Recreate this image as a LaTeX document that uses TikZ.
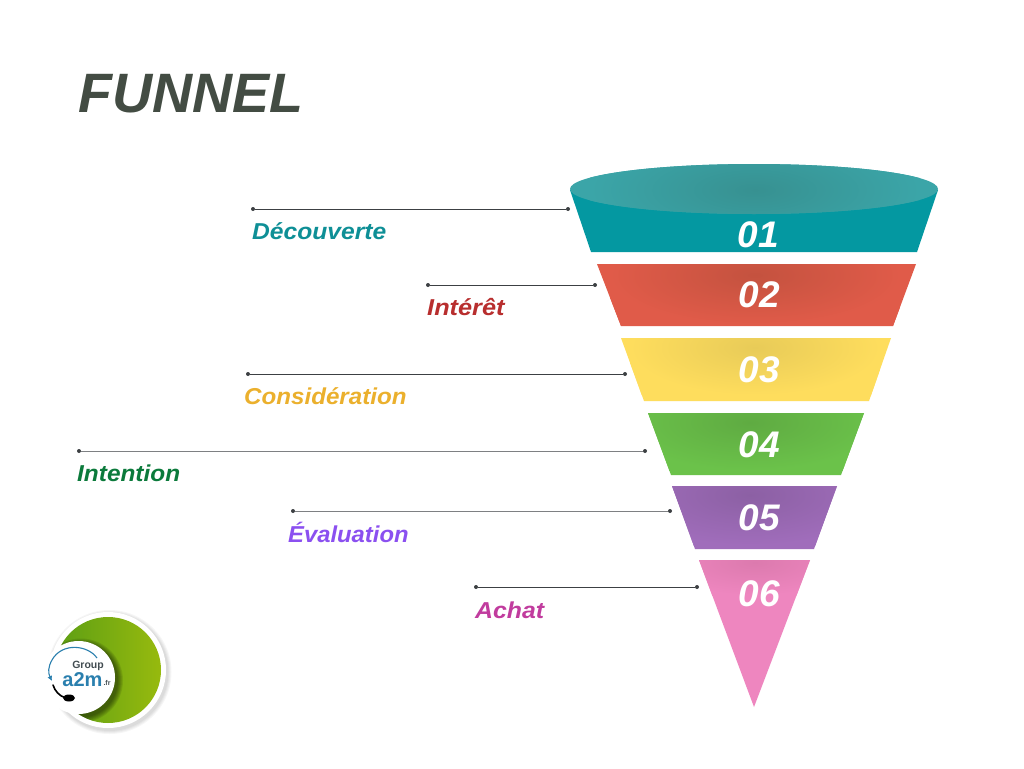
\documentclass[tikz,border=0pt]{standalone}
\usepackage{fontspec}
\setmainfont{Liberation Sans}
\usetikzlibrary{arrows.meta}
\definecolor{cTeal}{HTML}{0498A1}
\definecolor{cTealTop}{HTML}{3BA5A8}
\definecolor{cTealDark}{HTML}{379191}
\definecolor{cRed}{HTML}{E05B49}
\definecolor{cRedDark}{HTML}{C4523F}
\definecolor{cYellow}{HTML}{FEDD5D}
\definecolor{cYellowDark}{HTML}{E8CB58}
\definecolor{cGreen}{HTML}{6BC24A}
\definecolor{cGreenDark}{HTML}{5FAB42}
\definecolor{cPurple}{HTML}{A06DBB}
\definecolor{cPurpleDark}{HTML}{8C60A4}
\definecolor{cPink}{HTML}{EE86BF}
\definecolor{cPinkDark}{HTML}{DC7AAE}
\definecolor{cLine}{HTML}{3C4043}
\definecolor{cLineSoft}{HTML}{7E8083}
\definecolor{cTitle}{HTML}{434C43}
\definecolor{cLogoG}{HTML}{97BA0E}
\definecolor{cLogoD}{HTML}{5C9E14}
\definecolor{cLogoB}{HTML}{2A7FAE}
\definecolor{cLogoT}{HTML}{434D52}
\definecolor{tTeal}{HTML}{0E8F96}
\definecolor{tRed}{HTML}{B82E2E}
\definecolor{tGold}{HTML}{EBB02D}
\definecolor{tGreen}{HTML}{0B7A3B}
\definecolor{tViolet}{HTML}{8B50F0}
\definecolor{tMagenta}{HTML}{C13C9E}
\tikzset{
  x=1pt,y=-1pt,
  leader/.style={line width=0.9pt},
  dotnode/.style={circle,fill=cLine,inner sep=0pt,minimum size=4pt},
  numlabel/.style={font=\fontsize{37}{37}\selectfont\bfseries\itshape,text=white,inner sep=0pt},
  stage/.style={font=\fontsize{23}{23}\selectfont\bfseries\itshape,inner sep=0pt,anchor=base west,transform shape},
}
\begin{document}
\begin{tikzpicture}
\useasboundingbox (0,0) rectangle (1024,768);
\fill[white] (0,0) rectangle (1024,768);
\node[font=\fontsize{55.5}{56}\selectfont\bfseries\itshape,text=cTitle,inner sep=0pt,anchor=base west] (title) at (78,112.5) {FUNNEL};

% funnel bands
\fill[cTeal] (570,190) -- (591,252) -- (917,252) -- (938,190) -- cycle;
\fill[cRed] (597,264) -- (621,326) -- (893,326) -- (916,264) -- cycle;
\fill[cYellow] (621,338) -- (644,401) -- (869,401) -- (891,338) -- cycle;
\fill[cGreen] (648,413) -- (671,475) -- (841,475) -- (864,413) -- cycle;
\fill[cPurple] (672,486) -- (695,549) -- (814,549) -- (837,486) -- cycle;
\fill[cPink] (699,560) -- (754,707) -- (810,560) -- cycle;

% top ellipse
\fill[cTealTop] (754,189) ellipse [x radius=184,y radius=25];
\begin{scope}
\clip (754,189) ellipse [x radius=184,y radius=25];
\shade[inner color=cTealDark,outer color=cTealTop] (590,135) rectangle (920,245);
\end{scope}
% soft shade on each band
\begin{scope}
\clip (597,264) -- (621,326) -- (893,326) -- (916,264) -- cycle;
\shade[inner color=cRedDark,outer color=cRed] (610,225) rectangle (900,325);
\end{scope}
\begin{scope}
\clip (621,338) -- (644,401) -- (869,401) -- (891,338) -- cycle;
\shade[inner color=cYellowDark,outer color=cYellow] (630,300) rectangle (880,395);
\end{scope}
\begin{scope}
\clip (648,413) -- (671,475) -- (841,475) -- (864,413) -- cycle;
\shade[inner color=cGreenDark,outer color=cGreen] (620,375) rectangle (880,470);
\end{scope}
\begin{scope}
\clip (672,486) -- (695,549) -- (814,549) -- (837,486) -- cycle;
\shade[inner color=cPurpleDark,outer color=cPurple] (620,445) rectangle (880,545);
\end{scope}
\begin{scope}
\clip (699,560) -- (754,707) -- (810,560) -- cycle;
\shade[inner color=cPinkDark,outer color=cPink] (660,530) rectangle (850,595);
\end{scope}

% numbers
\node[numlabel] (n1) at (758,235) {01};
\node[numlabel] (n2) at (759,295) {02};
\node[numlabel] (n3) at (759,370) {03};
\node[numlabel] (n4) at (759,445) {04};
\node[numlabel] (n5) at (759,518) {05};
\node[numlabel] (n6) at (759,594) {06};

% leaders
\foreach \nm/\xa/\xb/\yy/\col in {a/253/568/209/cLine,b/428/595/285/cLine,c/248/625/374/cLine,d/79/645/451/cLineSoft,e/293/670/511/cLineSoft,f/476/697/587/cLine}{
  \node[dotnode] (\nm L) at (\xa,\yy) {};
  \node[dotnode] (\nm R) at (\xb,\yy) {};
  \draw[leader,draw=\col] (\nm L) -- (\nm R);
}

% stage labels
\node[stage,text=tTeal,xscale=1.07] (l1) at (252,239) {Découverte};
\node[stage,text=tRed,xscale=1.1] (l2) at (427,315) {Intérêt};
\node[stage,text=tGold,xscale=1.05] (l3) at (244,404) {Considération};
\node[stage,text=tGreen,xscale=1.06] (l4) at (77,481) {Intention};
\node[stage,text=tViolet,xscale=1.035] (l5) at (288,542) {Évaluation};
\node[stage,text=tMagenta,xscale=1.08] (l6) at (475,618) {Achat};

% logo: soft outer shadow, white rim, green disc
\foreach \r in {62,61,60,59}{
  \fill[black,opacity=0.035] (109.5,672) circle (\r);
}
\fill[white] (108,670) circle (58);
\shade[left color=cLogoD,right color=cLogoG] (108,670) circle (53);
% shadow of the white disc on the green one
\begin{scope}
\clip (108,670) circle (53);
\foreach \r in {42,41,40,39,38,37}{
  \fill[black,opacity=0.09] (81,680.5) circle (\r);
}
\end{scope}
\fill[white] (78.5,677.5) circle (36.5);
\draw[cLogoB,line width=1.1pt,-{Latex[length=5pt,width=5pt]}] (97,658) .. controls (88,645) and (62,642) .. (52,660) .. controls (48,667) and (48,673) .. (52,681);
\draw[black,line width=1.6pt,line cap=round] (53,685) .. controls (55,691) and (59,696) .. (66,698);
\fill[black] (69,698) ellipse [x radius=6,y radius=3.5];
\node[font=\fontsize{10.5}{11}\selectfont\bfseries,text=cLogoT,inner sep=0pt] (lg1) at (88,666) {Group};
\node[font=\fontsize{20}{20}\selectfont\bfseries,text=cLogoB,inner sep=0pt] (lg2) at (82.5,680) {a2m};
\node[font=\fontsize{7}{7}\selectfont\bfseries,text=cLogoT,inner sep=0pt] (lg3) at (107,683) {.fr};
\end{tikzpicture}
\end{document}
